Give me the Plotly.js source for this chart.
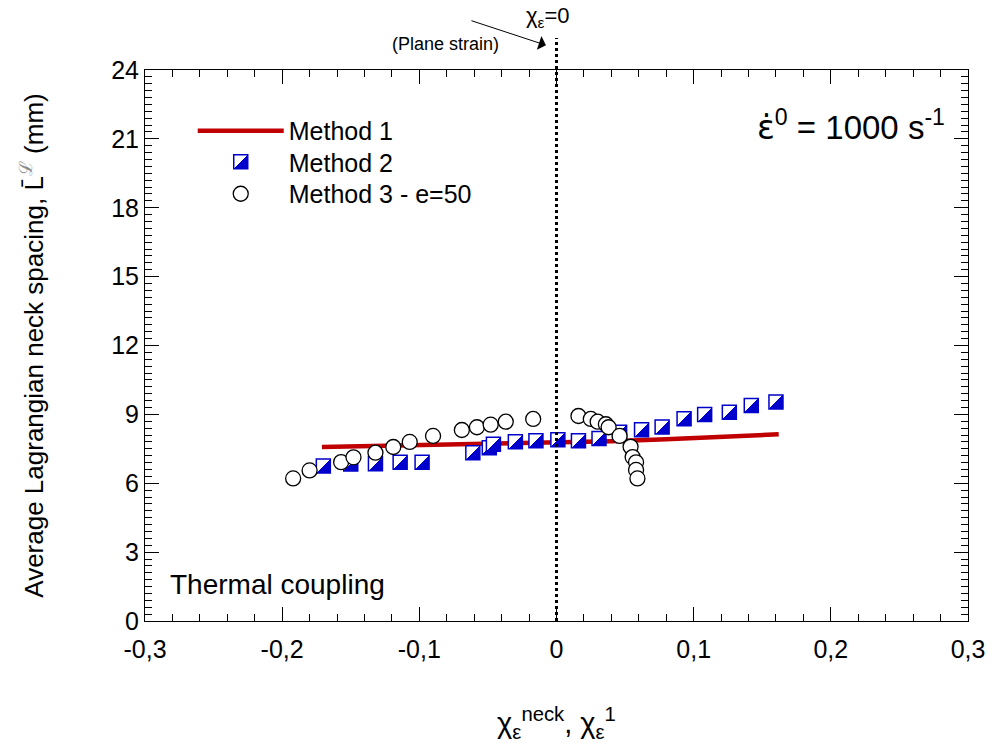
<!DOCTYPE html>
<html>
<head>
<meta charset="utf-8">
<script src="https://cdn.plot.ly/plotly-3.0.1.min.js"></script>
<style>html,body{margin:0;padding:0;background:#fff;}#chart{width:997px;height:751px;}</style>
</head>
<body>
<div id="chart"></div>
<script>
// Method 1 (continuous line)
const m1X = [-0.171, -0.12, -0.08, -0.04, 0.0, 0.04, 0.08, 0.12, 0.162];
const m1Y = [7.58, 7.63, 7.67, 7.71, 7.76, 7.83, 7.92, 8.02, 8.13];
// Method 2 (half-filled squares)
const m2X = [-0.170, -0.150, -0.132, -0.114, -0.098, -0.061, -0.049, -0.046, -0.030, -0.015, 0.001, 0.016, 0.031, 0.046, 0.062, 0.077, 0.093, 0.108, 0.126, 0.142, 0.160];
const m2Y = [6.75, 6.84, 6.85, 6.91, 6.91, 7.33, 7.55, 7.70, 7.81, 7.85, 7.90, 7.85, 7.95, 8.22, 8.33, 8.45, 8.81, 8.99, 9.09, 9.39, 9.54];
// Method 3 - e=50 (open circles)
const m3X = [-0.192, -0.180, -0.157, -0.148, -0.132, -0.119, -0.107, -0.090, -0.069, -0.058, -0.048, -0.037, -0.017, 0.016, 0.025, 0.030, 0.036, 0.038, 0.046, 0.054, 0.0555, 0.058, 0.058, 0.059];
const m3Y = [6.21, 6.56, 6.92, 7.13, 7.33, 7.58, 7.80, 8.06, 8.32, 8.44, 8.55, 8.68, 8.80, 8.93, 8.80, 8.68, 8.57, 8.44, 8.06, 7.59, 7.14, 6.91, 6.58, 6.21];

const xTickVals = [-0.3, -0.2, -0.1, 0, 0.1, 0.2, 0.3];
const xTickText = ['-0,3', '-0,2', '-0,1', '0', '0,1', '0,2', '0,3'];
const yTickVals = [0, 3, 6, 9, 12, 15, 18, 21, 24];

const FONT = 'Arial, "Liberation Sans", sans-serif';
const BLUE = '#0000CC';
const RED = '#C00000';

const traces = [
  {x: m1X, y: m1Y, name: 'Method 1', mode: 'lines', type: 'scatter', legend: 'legend',
   line: {color: RED, width: 4.5}},
  {x: m2X, y: m2Y, name: 'Method 2', mode: 'markers', type: 'scatter', legend: 'legend2',
   marker: {symbol: 'square', size: 14, color: BLUE,
            gradient: {type: 'horizontal', color: '#FFFFFF'},
            line: {color: BLUE, width: 1.5}}},
  {x: m3X, y: m3Y, name: 'Method 3 - e=50', mode: 'markers', type: 'scatter', legend: 'legend3',
   marker: {symbol: 'circle', size: 15, color: '#FFFFFF',
            line: {color: '#000000', width: 1.3}}}
];

const axisCommon = {
  showgrid: false, zeroline: false, showline: true, linecolor: '#000', linewidth: 1,
  mirror: 'ticks', ticks: 'inside', ticklen: 14, tickwidth: 1, tickcolor: '#000',
  tickfont: {family: FONT, size: 25, color: '#000'}
};

function legendAt(yPaper) {
  return {x: 0.058, y: yPaper, xanchor: 'left', yanchor: 'middle', bgcolor: 'rgba(0,0,0,0)',
          itemwidth: 86, font: {family: FONT, size: 25, color: '#000'}};
}

const layout = {
  width: 997, height: 751,
  margin: {l: 145, r: 29, t: 70, b: 130},
  paper_bgcolor: '#fff', plot_bgcolor: '#fff',
  separators: ', ',
  font: {family: FONT, color: '#000'},
  xaxis: Object.assign({}, axisCommon, {
    range: [-0.3, 0.3], tickmode: 'array', tickvals: xTickVals, ticktext: xTickText,
    ticklabelstandoff: 6,
    minor: {dtick: 0.02, ticks: 'inside', ticklen: 7, tickwidth: 1, tickcolor: '#000', showgrid: false},
    title: {text: 'χ<sub>ε</sub><sup>neck</sup>, χ<sub>ε</sub><sup>1</sup>', font: {family: FONT, size: 29}, standoff: 50}
  }),
  yaxis: Object.assign({}, axisCommon, {
    range: [0, 24], tickmode: 'array', tickvals: yTickVals,
    minor: {dtick: 0.3, ticks: 'inside', ticklen: 7, tickwidth: 1, tickcolor: '#000', showgrid: false},
    title: {text: 'Average Lagrangian neck spacing, L̄<sup><span style="color:#888">ℒ</span></sup> (mm)', font: {family: FONT, size: 26}, standoff: 60}
  }),
  showlegend: true,
  legend: legendAt(0.8893),
  legend2: legendAt(0.8330),
  legend3: legendAt(0.7750),
  shapes: [
    {type: 'line', xref: 'x', yref: 'paper', x0: 0, x1: 0, y0: 0, y1: 1.058,
     line: {color: '#000', width: 3, dash: 'dot'}, layer: 'above'}
  ],
  annotations: [
    {xref: 'paper', yref: 'paper', x: 0.4895, y: 1.097, text: 'χ<sub>ε</sub>=0', showarrow: false,
     font: {family: FONT, size: 22}, xanchor: 'center', yanchor: 'middle'},
    {xref: 'paper', yref: 'paper', x: 0.4326, y: 1.047, text: '(Plane strain)', showarrow: false,
     font: {family: FONT, size: 18}, xanchor: 'right', yanchor: 'middle'},
    {xref: 'paper', yref: 'paper', x: 0.4872, y: 1.045, text: '', showarrow: true,
     arrowhead: 1, arrowsize: 2.4, arrowwidth: 1, arrowcolor: '#000', ax: -76, ay: -25},
    {xref: 'paper', yref: 'paper', x: 0.858, y: 0.900,
     text: '<span style="font-family:\'DejaVu Sans\'">ε̇</span><sup>0</sup> = 1000 s<sup>-1</sup>', showarrow: false,
     font: {family: FONT, size: 33}, xanchor: 'center', yanchor: 'middle'},
    {xref: 'paper', yref: 'paper', x: 0.028, y: 0.067, text: 'Thermal coupling', showarrow: false,
     font: {family: FONT, size: 28}, xanchor: 'left', yanchor: 'middle'}
  ]
};

function fixGradients() {
  const gd = document.getElementById('chart');
  gd.querySelectorAll('linearGradient').forEach(function(g) {
    g.setAttribute('x1', '0'); g.setAttribute('y1', '0');
    g.setAttribute('x2', '1'); g.setAttribute('y2', '1');
    const stops = g.querySelectorAll('stop');
    stops.forEach(function(s) { s.setAttribute('offset', '50%'); });
  });
}

Plotly.newPlot('chart', traces, layout, {displayModeBar: false, staticPlot: true}).then(function(gd) {
  fixGradients();
  gd.on('plotly_afterplot', fixGradients);
});
</script>
</body>
</html>
